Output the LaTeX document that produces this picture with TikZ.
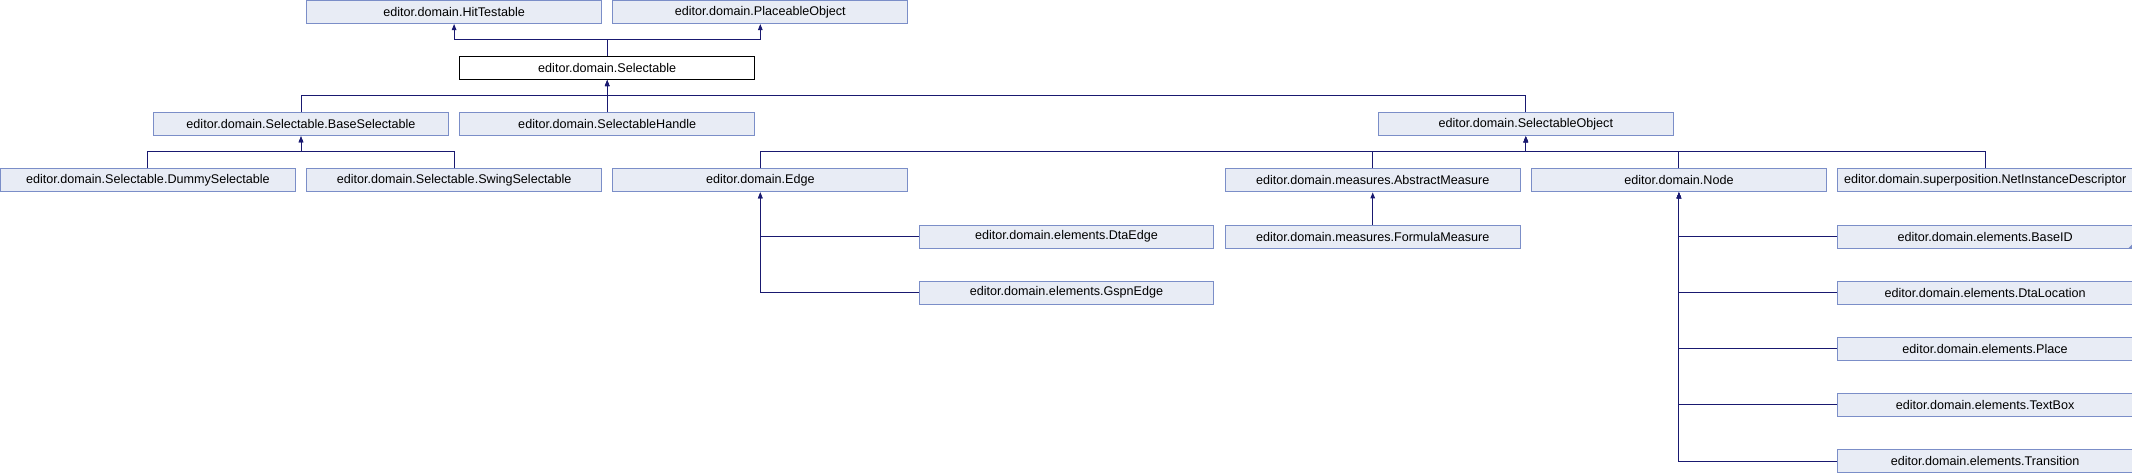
\documentclass[tikz,border=0pt]{standalone}
\usepackage{fontspec}
\setmainfont{Liberation Sans}
\usetikzlibrary{arrows.meta}
\definecolor{boxfill}{HTML}{E8ECF5}
\definecolor{boxline}{HTML}{7B8EC8}
\definecolor{edgecol}{HTML}{191970}
\tikzset{
  cls/.style={draw=boxline, fill=boxfill, line width=1pt, anchor=north west,
    minimum width=294.8pt, minimum height=23pt, inner sep=0pt,
    font=\fontsize{12.6}{14}\selectfont},
  curcls/.style={cls, draw=black, fill=white},
  inh/.style={draw=edgecol, line width=1pt, -{Triangle[width=4.5pt,length=6pt]}},
}
\newcommand{\px}{306.2}
\newcommand{\py}{56.125}
\begin{document}
\begin{tikzpicture}[x=1pt,y=-1pt]
\useasboundingbox (0,0) rectangle (2132,472);
\node[cls] (hit) at (1*\px,0*\py) {editor.domain.HitTestable};
\node[cls] (place) at (2*\px,0*\py) {editor.domain.PlaceableObject};
\node[curcls] (sel) at (1.5*\px,1*\py) {editor.domain.Selectable};
\node[cls] (base) at (0.5*\px,2*\py) {editor.domain.Selectable.BaseSelectable};
\node[cls] (handle) at (1.5*\px,2*\py) {editor.domain.SelectableHandle};
\node[cls] (selobj) at (4.5*\px,2*\py) {editor.domain.SelectableObject};
\node[cls] (dummy) at (0*\px,3*\py) {editor.domain.Selectable.DummySelectable};
\node[cls] (swing) at (1*\px,3*\py) {editor.domain.Selectable.SwingSelectable};
\node[cls] (edge) at (2*\px,3*\py) {editor.domain.Edge};
\node[cls] (abs) at (4*\px,3*\py) {editor.domain.measures.AbstractMeasure};
\node[cls] (node) at (5*\px,3*\py) {editor.domain.Node};
\node[cls] (net) at (6*\px,3*\py) {editor.domain.superposition.NetInstanceDescriptor};
\node[cls] (dtaedge) at (3*\px,4*\py) {editor.domain.elements.DtaEdge};
\node[cls] (gspn) at (3*\px,5*\py) {editor.domain.elements.GspnEdge};
\node[cls] (formula) at (4*\px,4*\py) {editor.domain.measures.FormulaMeasure};
\node[cls] (baseid) at (6*\px,4*\py) {editor.domain.elements.BaseID};
\node[cls] (dtaloc) at (6*\px,5*\py) {editor.domain.elements.DtaLocation};
\node[cls] (placeel) at (6*\px,6*\py) {editor.domain.elements.Place};
\node[cls] (textbox) at (6*\px,7*\py) {editor.domain.elements.TextBox};
\node[cls] (trans) at (6*\px,8*\py) {editor.domain.elements.Transition};
\fill[boxline] (baseid.south east) -- ++(-5,0) -- ++(5,-5) -- cycle;
% inheritance
\draw[inh] (sel.north) -- ++(0,-16.5) -| (hit.south);
\draw[inh] (sel.north) -- ++(0,-16.5) -| (place.south);
\draw[inh] (base.north) -- ++(0,-16.5) -| (sel.south);
\draw[inh] (handle.north) -- (sel.south);
\draw[inh] (selobj.north) -- ++(0,-16.5) -| (sel.south);
\draw[inh] (dummy.north) -- ++(0,-16.5) -| (base.south);
\draw[inh] (swing.north) -- ++(0,-16.5) -| (base.south);
\draw[inh] (edge.north) -- ++(0,-16.5) -| (selobj.south);
\draw[inh] (abs.north) -- ++(0,-16.5) -| (selobj.south);
\draw[inh] (node.north) -- ++(0,-16.5) -| (selobj.south);
\draw[inh] (net.north) -- ++(0,-16.5) -| (selobj.south);
\draw[inh] (dtaedge.west) -| (edge.south);
\draw[inh] (gspn.west) -| (edge.south);
\draw[inh] (formula.north) -- (abs.south);
\draw[inh] (baseid.west) -| (node.south);
\draw[inh] (dtaloc.west) -| (node.south);
\draw[inh] (placeel.west) -| (node.south);
\draw[inh] (textbox.west) -| (node.south);
\draw[inh] (trans.west) -| (node.south);
\end{tikzpicture}
\end{document}
